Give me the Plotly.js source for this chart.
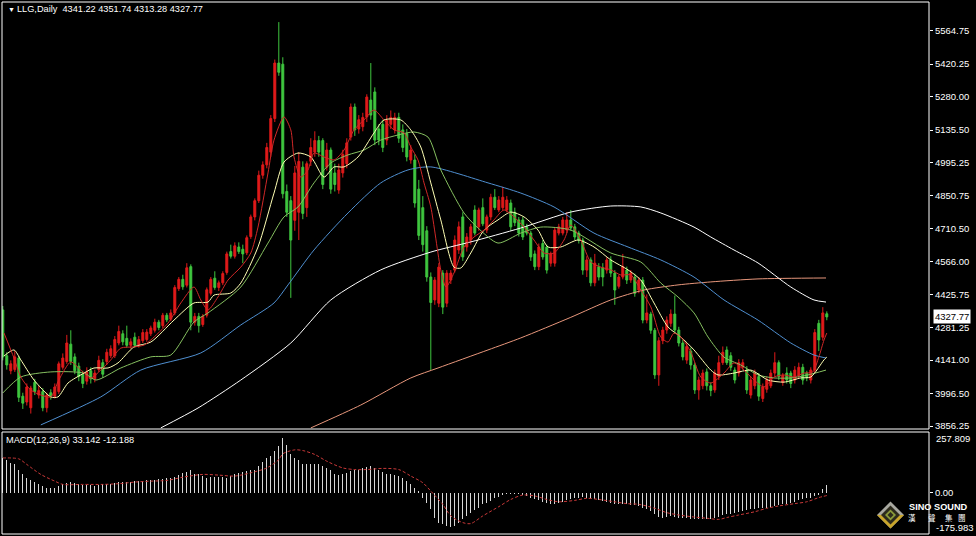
<!DOCTYPE html>
<html><head><meta charset="utf-8">
<script src="https://cdn.plot.ly/plotly-3.0.1.min.js"></script>
<style>html,body{margin:0;padding:0;background:#000;}#chart{width:976px;height:536px;}</style>
</head><body><div id="chart"></div>
<script>
// ---------- text ----------
const symbolTitle = "LLG,Daily";
const lastOHLC = ["4341.22", "4351.74", "4313.28", "4327.77"];
const lastClose = 4327.77;
const macdTitle = "MACD(12,26,9) 33.142 -12.188";
const priceTicks = [5564.75, 5420.25, 5280.00, 5135.50, 4995.25, 4850.75, 4710.50, 4566.00, 4425.75, 4281.25, 4141.00, 3996.50, 3856.25];
const priceTickText = ["5564.75", "5420.25", "5280.00", "5135.50", "4995.25", "4850.75", "4710.50", "4566.00", "4425.75", "4281.25", "4141.00", "3996.50", "3856.25"];
const macdMax = 257.809, macdMin = -175.983;
const logoName = "SINO SOUND";
const logoChars = ["漢", "聲", "集", "團"];

// ---------- daily candles ----------
const opens = [
4358,4160,4095,4100,4150,3985,3960,3935,4045,3990,
4005,3935,4000,3985,4005,4110,4135,4210,4155,4115,
4080,4050,4095,4060,4100,4130,4135,4160,4160,4215,
4255,4235,4205,4240,4205,4225,4230,4255,4270,4305,
4290,4335,4318,4345,4450,4490,4465,4545,4305,4330,
4295,4335,4430,4495,4455,4475,4520,4610,4590,4630,
4620,4605,4675,4760,4830,4940,4985,5040,5185,5425,
5420,4870,4830,4745,4780,4975,4800,5000,5040,5090,
5090,4975,5049,4950,4876,4950,4990,5105,5235,5140,
5150,5192,5265,5300,5140,5160,5092,5160,5136,5190,
5136,5120,5006,5006,4880,4800,4700,4500,4401,4387,
4517,4387,4487,4530,4617,4760,4630,4660,4790,4717,
4800,4703,4760,4845,4790,4800,4790,4820,4780,4747,
4747,4717,4690,4600,4545,4645,4630,4560,4560,4690,
4690,4703,4747,4717,4690,4660,4530,4574,4475,4545,
4540,4530,4574,4517,4460,4500,4530,4487,4500,4444,
4487,4314,4340,4270,4077,4225,4271,4300,4340,4271,
4215,4141,4180,4120,4012,4030,4090,4030,4012,4070,
4130,4185,4160,4098,4085,4110,4098,3990,4030,4070,
3975,4015,4030,4085,4130,4045,4085,4085,4055,4075,
4110,4085,4055,4098,4300,4240,4341.22];
const highs = [
4375,4175,4140,4180,4160,4000,4040,4030,4060,4030,
4020,4000,4015,4040,4135,4170,4250,4270,4170,4130,
4095,4110,4110,4100,4160,4145,4190,4205,4245,4290,
4270,4290,4235,4260,4245,4275,4275,4290,4320,4315,
4345,4345,4360,4465,4500,4510,4560,4555,4345,4345,
4340,4455,4500,4525,4485,4525,4610,4640,4650,4650,
4640,4680,4770,4840,4960,5000,5080,5200,5440,5602,
5450,4900,4850,4980,5040,5000,5000,5100,5130,5110,
5100,5080,5060,4990,4990,5050,5100,5250,5250,5200,
5210,5290,5425,5320,5160,5180,5200,5220,5210,5210,
5160,5140,5070,5030,4920,4850,4720,4520,4500,4560,
4530,4530,4530,4680,4740,4780,4690,4730,4810,4800,
4840,4770,4860,4880,4850,4890,4850,4835,4800,4760,
4760,4730,4700,4615,4645,4660,4640,4610,4715,4730,
4760,4780,4790,4730,4700,4670,4590,4585,4600,4560,
4560,4585,4590,4530,4510,4600,4545,4530,4515,4500,
4500,4425,4350,4280,4240,4285,4330,4360,4420,4285,
4230,4215,4195,4130,4070,4100,4105,4045,4100,4160,
4200,4200,4175,4110,4145,4145,4115,4070,4100,4085,
4040,4070,4100,4175,4140,4085,4110,4095,4115,4130,
4125,4095,4110,4275,4315,4370,4351.74];
const lows = [
4140,4100,4080,4090,3960,3930,3945,3910,3990,3975,
3920,3915,3970,3975,3995,4100,4125,4120,4080,4050,
4020,4035,4040,4045,4090,4065,4120,4150,4150,4205,
4205,4195,4190,4195,4195,4215,4220,4245,4260,4270,
4280,4305,4310,4335,4440,4445,4455,4270,4290,4260,
4285,4325,4420,4445,4440,4465,4510,4580,4580,4600,
4560,4595,4665,4745,4820,4925,4970,5020,5170,5370,
4840,4760,4410,4700,4660,4750,4760,4980,5020,5020,
4880,4960,4860,4870,4860,4930,4970,5090,5110,5120,
5130,5170,5180,5070,5070,5040,5070,5140,5120,5080,
5040,5000,4990,4800,4660,4610,4480,4098,4380,4370,
4340,4370,4470,4520,4600,4570,4610,4640,4680,4700,
4720,4690,4745,4790,4780,4790,4780,4700,4720,4675,
4660,4680,4570,4530,4530,4575,4515,4545,4545,4680,
4680,4690,4700,4660,4645,4510,4500,4460,4460,4485,
4460,4515,4500,4380,4450,4490,4470,4475,4415,4430,
4300,4300,4255,4060,4030,4210,4255,4285,4255,4200,
4140,4125,4100,3995,3970,4015,4010,3985,4000,4055,
4120,4120,4095,4040,4070,4100,3995,3975,4015,3965,
3960,4000,4020,4070,4055,4030,4040,4020,4040,4060,
4035,4050,4040,4085,4180,4225,4313.28];
const closes = [
4155,4120,4125,4155,3980,3955,4025,4020,4005,4010,
3935,3990,3985,4025,4125,4150,4215,4135,4095,4070,
4040,4090,4060,4085,4140,4080,4175,4190,4230,4265,
4220,4205,4220,4205,4230,4260,4262,4280,4305,4282,
4335,4315,4345,4455,4490,4458,4540,4305,4330,4290,
4330,4445,4490,4455,4475,4515,4600,4590,4635,4610,
4600,4670,4760,4830,4940,4985,5060,5185,5425,5385,
4860,4780,4660,4950,5000,4775,4990,5060,5090,5040,
4900,5049,4880,4900,4963,5030,5080,5235,5136,5180,
5190,5278,5200,5092,5092,5060,5179,5190,5190,5100,
5060,5019,5049,4820,4680,4640,4500,4390,4487,4543,
4370,4517,4517,4660,4717,4587,4673,4717,4690,4790,
4730,4760,4845,4800,4833,4845,4833,4717,4735,4690,
4673,4690,4587,4545,4630,4587,4530,4600,4703,4717,
4747,4747,4712,4673,4660,4530,4574,4475,4560,4500,
4500,4574,4517,4444,4500,4545,4487,4517,4430,4487,
4314,4345,4270,4077,4225,4271,4314,4340,4271,4215,
4155,4200,4120,4012,4055,4085,4030,4010,4085,4130,
4175,4130,4110,4055,4130,4130,4012,4055,4085,3985,
4025,4055,4085,4130,4070,4075,4055,4040,4098,4110,
4055,4065,4098,4260,4228,4345,4327.77];

// ---------- moving averages (read at sample bars) ----------
const ma5Idx = [0.3,2.8,4.5,7,9.5,12,14,17,19.5,22,24.5,27,29.5,32.8,35.3,37,41.3,44.5,47.8,49.5,51.3,53.8,56.3,59.5,62,63.8,66.3,67.8,70.3,72,72.8,74.5,76.3,77.8,80.3,82.8,85.3,87.8,90.3,92.8,95.3,97.8,100.3,102,103.8,105.3,107,109.5,110.8,112.8,115.3,117.8,120.3,122.8,125.3,127.8,130.3,132.8,135.3,137.8,140.3,142,144.5,147,149.5,152,154.5,157,159.5,162,164.5,166.3,167.8,169.5,172,174.5,177,180.3,182.8,185.3,187.8,190.3,192.8,195.3,197.8,200.3,202.5,204,205.3,206];
const ma5Val = [4258,4150,4068,4012,3990,3982,4055,4133,4098,4064,4098,4142,4193,4198,4206,4228,4301,4388,4457,4401,4358,4414,4487,4543,4604,4716,4950,5092,5192,5136,5019,4932,4963,5036,5019,5006,5049,5136,5179,5222,5179,5136,5123,5062,5006,4907,4803,4531,4457,4518,4630,4673,4703,4747,4790,4760,4716,4660,4604,4604,4660,4725,4660,4565,4543,4531,4509,4509,4444,4371,4241,4219,4258,4241,4176,4068,4042,4085,4129,4098,4055,4025,4068,4077,4068,4085,4090,4154,4228,4258];
const ma10Idx = [0.3,2.8,4.5,7.8,12,13.8,16.3,20.3,22.8,26.3,28.8,32.8,37,42.8,47.8,51.3,52.8,57,59.5,63.8,67.8,70.3,73.8,77,80.3,82.8,85.3,88.8,92.8,95.3,99.5,102,104.5,107,109.5,112.8,114.5,117,120.3,123.8,127,130.3,133.8,136.3,139.5,143.8,147.8,152,156.3,159.5,162.8,166.3,169.5,172.8,177,178.8,182.8,187,191.3,195.3,199.5,202,205.3,206];
const ma10Val = [4159,4185,4142,4055,3982,3982,4042,4085,4107,4107,4129,4198,4219,4314,4388,4392,4422,4431,4474,4630,4863,4997,5036,5019,4932,4976,4976,5019,5123,5179,5179,5136,5062,4907,4747,4543,4539,4604,4703,4747,4781,4760,4703,4630,4630,4660,4630,4574,4531,4487,4388,4284,4241,4185,4098,4077,4085,4098,4055,4046,4064,4068,4142,4154];
const ma20Idx = [0,4.5,12,20.3,23.3,29.5,37,42,47.8,51.3,59.5,66.3,70.3,73.8,77.8,82,86.3,90.3,94.5,98.8,102.8,106.3,109.5,115.3,118.8,123.8,129.5,134.5,142,152,159.5,164.5,168.8,172.8,176.3,180.3,184.5,188.8,192.8,197,201.3,205.8];
const ma20Val = [3999,4068,4090,4085,4055,4107,4155,4163,4306,4345,4457,4647,4760,4803,4907,4993,5028,5049,5092,5114,5127,5105,4963,4777,4712,4647,4690,4716,4703,4604,4565,4474,4414,4345,4241,4154,4120,4077,4064,4064,4077,4098];
const ma60Idx = [9.5,24.5,34.5,49.5,59.5,67.8,71.3,77.8,86.3,94.5,101.3,107,121.3,129.5,137.8,147.8,156.3,164.5,172.8,180.3,188.8,197,202.8,205.8];
const ma60Val = [3861,3982,4098,4172,4293,4388,4466,4617,4777,4907,4963,4976,4907,4863,4803,4690,4630,4574,4500,4401,4314,4215,4163,4150];
const ma120Idx = [39.5,48.8,59.5,72,82,94.5,107,117,129.5,142,152,159.5,164.5,172.8,177,182.8,188.8,197,202.8,205.8];
const ma120Val = [3848,3934,4055,4215,4401,4531,4608,4652,4712,4781,4807,4803,4777,4716,4673,4617,4561,4457,4401,4392];
const ma250Idx = [77,89.5,102,108.8,121.3,129.5,142,152,160.3,168.8,177,188.8,205.8];
const ma250Val = [3848,3947,4064,4107,4185,4237,4326,4401,4444,4466,4479,4492,4496];

// ---------- MACD ----------
const macdHist = [
150,143,129,122,100,82,64,57,47,36,
29,21,19,21,29,39,43,47,43,36,
33,32,32,29,32,36,36,39,44,47,
47,47,47,50,50,50,53,56,57,59,
60,62,64,67,76,86,89,96,82,79,
72,64,67,67,67,67,64,72,82,86,
90,93,96,100,115,133,148,160,179,201,
236,208,168,150,143,125,122,122,122,122,
115,107,100,82,76,79,85,93,96,100,
105,110,115,107,100,90,82,79,76,72,
64,50,36,21,7,-21,-43,-72,-107,-129,
-133,-143,-148,-143,-129,-115,-100,-86,-76,-64,
-50,-43,-36,-24,-19,-10,-7,-4,-4,-7,
-10,-14,-21,-29,-33,-39,-43,-50,-47,-44,
-39,-33,-29,-24,-21,-19,-21,-24,-29,-33,
-36,-39,-43,-47,-50,-50,-50,-53,-53,-57,
-64,-72,-79,-93,-105,-107,-105,-100,-105,-107,
-110,-110,-115,-115,-115,-115,-115,-115,-110,-105,
-96,-90,-90,-86,-82,-79,-76,-72,-72,-67,
-64,-64,-62,-57,-53,-50,-47,-43,-39,-33,
-29,-24,-21,-14,-10,14,33.142];
const sigIdx = [0,4,6,9.5,13,15,20,25,29,33,37,41,45,50,54,58,62,66,69,70,73,75,78,81,85,88,91,95,99,102,105,107,110,112,115,117,120,124,127,130,133,136,139,143,146,149,153,156,159,163,166,169,173,176,179,181,184,188,191,194,198,201,204,206];
const sigVal = [150,146,122,79,50,36,36,36,39,46,50,53,67,79,76,72,86,107,143,168,185,182,165,136,107,100,100,105,100,72,43,7,-50,-100,-129,-133,-100,-60,-29,-10,-14,-29,-39,-33,-24,-29,-39,-47,-50,-67,-86,-96,-105,-110,-115,-107,-96,-82,-67,-57,-47,-39,-21,-12.188];

const bars = opens.map((_, i) => i);

// ---------- geometry helpers ----------
const PL = 2, PR = 929, PT = 2, PB = 534;
const px = x => (x - PL) / (PR - PL);
const py = y => (PB - y) / (PB - PT);
const FONT = "Liberation Sans, Arial, sans-serif";
const tf = {family: FONT, size: 9.5, color: "#ffffff"};
const hf = {family: FONT, size: 9.2, color: "#ffffff"};

function maTrace(xs, ys, color) {
  return {type: "scatter", mode: "lines", x: xs, y: ys, xaxis: "x", yaxis: "y",
    line: {color: color, width: 1, shape: "spline", smoothing: 0.7}, hoverinfo: "skip"};
}

const traces = [
  {type: "candlestick", x: bars, open: opens, high: highs, low: lows, close: closes,
   xaxis: "x", yaxis: "y", whiskerwidth: 0, hoverinfo: "skip",
   increasing: {line: {color: "#e01a1a", width: 1}, fillcolor: "#e01a1a"},
   decreasing: {line: {color: "#3fc63f", width: 1}, fillcolor: "#3fc63f"}},
  maTrace(ma250Idx, ma250Val, "#e8977c"),
  maTrace(ma120Idx, ma120Val, "#ffffff"),
  maTrace(ma60Idx, ma60Val, "#4f8fd0"),
  maTrace(ma20Idx, ma20Val, "#86c060"),
  maTrace(ma10Idx, ma10Val, "#ffffb4"),
  maTrace(ma5Idx, ma5Val, "#d02828"),
  {type: "bar", x: bars, y: macdHist, xaxis: "x", yaxis: "y2", width: 0.3,
   marker: {color: "#d8d8d8", line: {width: 0}}, hoverinfo: "skip"},
  {type: "scatter", mode: "lines", x: sigIdx, y: sigVal, xaxis: "x", yaxis: "y2",
   line: {color: "#c83838", width: 1, dash: "3px,2px", shape: "spline", smoothing: 0.8}, hoverinfo: "skip"}
];

// logo diamond (pixel centre / radius)
function diamond(cx, cy, r, fill) {
  return {type: "path", xref: "paper", yref: "paper", layer: "above",
    path: `M ${px(cx)} ${py(cy - r)} L ${px(cx + r)} ${py(cy)} L ${px(cx)} ${py(cy + r)} L ${px(cx - r)} ${py(cy)} Z`,
    fillcolor: fill, line: {width: 0}};
}
function halfDiamondLower(cx, cy, r, fill) {
  return {type: "path", xref: "paper", yref: "paper", layer: "above",
    path: `M ${px(cx - r)} ${py(cy)} L ${px(cx + r)} ${py(cy)} L ${px(cx)} ${py(cy + r)} Z`,
    fillcolor: fill, line: {width: 0}};
}

const charX = [912, 932, 949, 962];
const logoAnn = logoChars.map((c, k) => ({
  xref: "paper", yref: "paper", x: px(charX[k]), y: py(517.5), xanchor: "center", yanchor: "middle",
  text: c, showarrow: false, font: {family: "Noto Sans CJK TC, sans-serif", size: 7.5, color: "#ffffff"}
}));

const layout = {
  width: 976, height: 536,
  margin: {l: PL, r: 976 - PR, t: PT, b: 536 - PB},
  paper_bgcolor: "#000000", plot_bgcolor: "#000000",
  showlegend: false, bargap: 0,
  xaxis: {range: [-0.2, 231.55], showgrid: false, zeroline: false, showticklabels: false,
          ticks: "", showline: false, rangeslider: {visible: false}, anchor: "y2", fixedrange: true},
  yaxis: {domain: [py(429), 1], range: [3843.3, 5688.8], side: "right", anchor: "x",
          tickvals: priceTicks, ticktext: priceTickText, ticks: "outside", ticklen: 3,
          tickcolor: "#ffffff", showgrid: false, zeroline: false, showline: false, tickfont: tf},
  yaxis2: {domain: [0, py(432)], range: [-178, 262], side: "right", anchor: "x",
           tickvals: [0], ticktext: ["0.00"], ticks: "outside", ticklen: 3, tickcolor: "#ffffff",
           showgrid: false, zeroline: false, showline: false, tickfont: tf},
  shapes: [
    {type: "rect", xref: "paper", yref: "paper", x0: 0, x1: 1, y0: py(429), y1: 1,
     line: {color: "#ffffff", width: 1}},
    {type: "rect", xref: "paper", yref: "paper", x0: 0, x1: 1, y0: 0, y1: py(432),
     line: {color: "#ffffff", width: 1}},
    diamond(890.5, 515, 13.5, "#a8a8a0"),
    halfDiamondLower(890.5, 515, 13.5, "#c9a52a"),
    diamond(890.5, 515, 9.5, "#2c2a1c"),
    diamond(890.5, 515, 5.5, "#8a9a3a"),
    diamond(890.5, 515, 3, "#2c2a1c")
  ],
  annotations: [
    {xref: "paper", yref: "paper", x: px(6), y: py(9), xanchor: "left", yanchor: "middle",
     text: "▼", showarrow: false, font: {family: FONT, size: 7, color: "#ffffff"}},
    {xref: "paper", yref: "paper", x: px(15), y: py(9), xanchor: "left", yanchor: "middle",
     text: symbolTitle + "\u00a0\u00a0" + lastOHLC.join(" "), showarrow: false, font: hf},
    {xref: "paper", yref: "paper", x: px(4), y: py(440), xanchor: "left", yanchor: "middle",
     text: macdTitle, showarrow: false, font: hf},
    {xref: "paper", yref: "y", x: px(933), y: lastClose, xanchor: "left", yanchor: "middle",
     text: lastClose.toFixed(2), showarrow: false, bgcolor: "#ffffff", borderpad: 1,
     font: {family: FONT, size: 9.5, color: "#000000"}},
    {xref: "paper", yref: "y2", x: px(934), y: macdMax, yshift: -6, xanchor: "left", yanchor: "middle",
     text: macdMax.toFixed(3), showarrow: false, font: tf},
    {xref: "paper", yref: "y2", x: px(934), y: macdMin, yshift: 6, xanchor: "left", yanchor: "middle",
     text: macdMin.toFixed(3), showarrow: false, font: tf},
    {xref: "paper", yref: "paper", x: px(907), y: py(507), xanchor: "left", yanchor: "middle",
     text: "<b>" + logoName + "</b>", showarrow: false, font: {family: FONT, size: 9.2, color: "#ffffff"}}
  ].concat(logoAnn)
};

Plotly.newPlot("chart", traces, layout, {staticPlot: true, displayModeBar: false});
</script></body></html>
